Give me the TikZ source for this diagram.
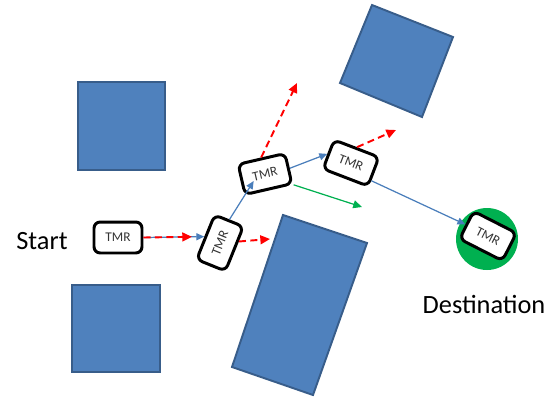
\documentclass[tikz,border=0pt]{standalone}
\usepackage{fontspec}
\setmainfont{Carlito}
\usetikzlibrary{arrows.meta}
\usetikzlibrary{calc}

\definecolor{boxblue}{HTML}{4F81BD}
\definecolor{boxedge}{HTML}{385D8A}
\definecolor{linkblue}{HTML}{4A7EBB}
\definecolor{goalgreen}{HTML}{00B050}

\tikzset{
	tmr/.style={draw, fill=white, line width=1.7pt, rounded corners=3.5pt,
		minimum width=0.96cm, minimum height=0.62cm, inner sep=0pt,
		font=\fontsize{7.6}{9}\selectfont, text=black!80},
	obstacle/.style={fill=boxblue, draw=boxedge, line width=1.1pt},
	link/.style={draw=linkblue, line width=0.7pt, ->, >={Triangle[length=4.5pt, width=4pt]}},
	probe/.style={draw=red, line width=1.1pt, dash pattern=on 4pt off 2.5pt, ->,
		>={Triangle[length=5.5pt, width=5pt]}},
	pick/.style={draw=goalgreen, line width=0.7pt, ->, >={Triangle[length=5pt, width=4.5pt]}},
	placename/.style={font=\fontsize{15}{18}\selectfont}
}

\begin{document}
\begin{tikzpicture}[x=0.02cm, y=-0.02cm]
	\useasboundingbox (0,0) rectangle (557,396);

	% Obstacles
	\draw[obstacle] (78,82) rectangle (165,170);
	\draw[obstacle] (72,285) rectangle (160,372);
	\draw[obstacle] (372,5) -- (453,37) -- (422,117) -- (340,83) -- cycle;
	\draw[obstacle] (283,215) -- (367,243) -- (313,395) -- (232,367) -- cycle;

	% Goal
	\fill[goalgreen] (487,239) circle (31);

	% Nodes
	\node[tmr] (t1) at (118,237.5) {TMR};
	\node[tmr, rotate=68] (t2) at (220,243) {TMR};
	\node[tmr, rotate=13] (t3) at (265,174) {TMR};
	\node[tmr, rotate=-21] (t4) at (351,163) {TMR};
	\node[tmr, rotate=-27] (t5) at (488,236) {TMR};

	\node[placename] (start) at (42,241.5) {Start};
	\node[placename] (dest) at (484,304.5) {Destination};

	% Edges
	\draw[link] (t1.east) -- (t2.north);
	\draw[probe, shorten >=7pt] (t1.east) -- (t2.north);
	\draw[link] (t2.east) -- (t3.text);
	\draw[link] (t3.east) -- (t4.west);
	\draw[link] (t4.-20) -- (t5.west);

	% Probes
	\coordinate (p1) at (270,239);
	\coordinate (p2) at (297,83);
	\coordinate (p3) at (396,130);
	\coordinate (g1) at (362,207);
	\draw[probe] (t2) -- (p1);
	\draw[probe] (t3.north) -- (p2);
	\draw[probe] (t4.north) -- (p3);
	\draw[pick] (t3.south east) -- (g1);
\end{tikzpicture}
\end{document}
